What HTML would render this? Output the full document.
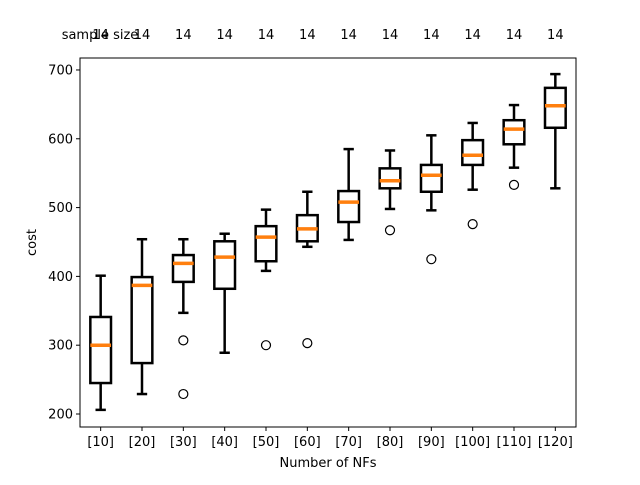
<!DOCTYPE html>
<html><head><meta charset="utf-8"><style>
body{margin:0;background:#fff}
svg text{font-family:"DejaVu Sans","Liberation Sans",sans-serif;font-size:13px;fill:#000}
</style></head><body>
<svg id="chart" width="640" height="480" xmlns="http://www.w3.org/2000/svg"></svg>
<script>
const categories=["[10]","[20]","[30]","[40]","[50]","[60]","[70]","[80]","[90]","[100]","[110]","[120]"];
const whiskerLow=[206,229,347,289,408,443,453,498,496,526,558,528];
const q1=[245,274,392,382,422,451,479,528,523,562,592,616];
const medians=[300,387,419,428,457,469,508,539,547,576,614,648];
const q3=[341,399,431,451,473,489,524,557,562,598,627,674];
const whiskerHigh=[401,454,454,462,497,523,585,583,605,623,649,694];
const outliers=[[],[],[307,229],[],[300],[303],[],[467],[425],[476],[533],[]];
const sampleSizes=[14,14,14,14,14,14,14,14,14,14,14,14];
const yTicks=[200,300,400,500,600,700];

const svg=document.getElementById('chart');
const NS='http://www.w3.org/2000/svg';
const L=80,R=576,T=58,B=427,yMin=181.1,yMax=717.4;
const n=categories.length;
function xs(i){return L+(i+0.5)/n*(R-L);}
function ys(v){return B-(v-yMin)/(yMax-yMin)*(B-T);}
function mk(tag,attrs,parent){const e=document.createElementNS(NS,tag);for(const k in attrs)e.setAttribute(k,attrs[k]);(parent||svg).appendChild(e);return e;}
const bw=(R-L)/n*0.5;
for(let i=0;i<n;i++){
  const g=mk('g',{});
  
  
  const x=xs(i);
  const st={stroke:'#000','stroke-width':2.5,fill:'none'};
  mk('line',Object.assign({x1:x,x2:x,y1:ys(whiskerLow[i]),y2:ys(q1[i])},st),g);
  mk('line',Object.assign({x1:x,x2:x,y1:ys(q3[i]),y2:ys(whiskerHigh[i])},st),g);
  mk('line',Object.assign({x1:x-bw/4,x2:x+bw/4,y1:ys(whiskerLow[i]),y2:ys(whiskerLow[i])},st),g);
  mk('line',Object.assign({x1:x-bw/4,x2:x+bw/4,y1:ys(whiskerHigh[i]),y2:ys(whiskerHigh[i])},st),g);
  mk('rect',Object.assign({x:x-bw/2,y:ys(q3[i]),width:bw,height:ys(q1[i])-ys(q3[i])},st),g);
  mk('line',{x1:x-bw/2,x2:x+bw/2,y1:ys(medians[i]),y2:ys(medians[i]),stroke:'#ff7f0e','stroke-width':3.5},g);
  outliers[i].forEach(v=>{const c=mk('circle',{cx:x,cy:ys(v),r:4.5,fill:'none',stroke:'#000','stroke-width':1.2},g);
    
    });
  mk('line',{x1:x,x2:x,y1:B,y2:B+4,stroke:'#000','stroke-width':1});
  const t=mk('text',{x:x,y:B+19,'text-anchor':'middle'});t.textContent=categories[i];
  
  
  const s=mk('text',{x:x,y:39,'text-anchor':'middle'});s.textContent=sampleSizes[i];
  
  
}
yTicks.forEach(v=>{
  mk('line',{x1:L-4,x2:L,y1:ys(v),y2:ys(v),stroke:'#000','stroke-width':1});
  const t=mk('text',{x:L-7,y:ys(v)+4.5,'text-anchor':'end'});t.textContent=v;
  
  
});
const fr=mk('rect',{x:L,y:T,width:R-L,height:B-T,fill:'none',stroke:'#000','stroke-width':1});


const ss=mk('text',{x:100,y:39,'text-anchor':'middle'});ss.textContent='sample size';


const xt=mk('text',{x:(L+R)/2,y:467,'text-anchor':'middle'});xt.textContent='Number of NFs';


const yt=mk('text',{x:36,y:(T+B)/2,'text-anchor':'middle',transform:'rotate(-90 36 '+((T+B)/2)+')'});yt.textContent='cost';


</script>
</body></html>
